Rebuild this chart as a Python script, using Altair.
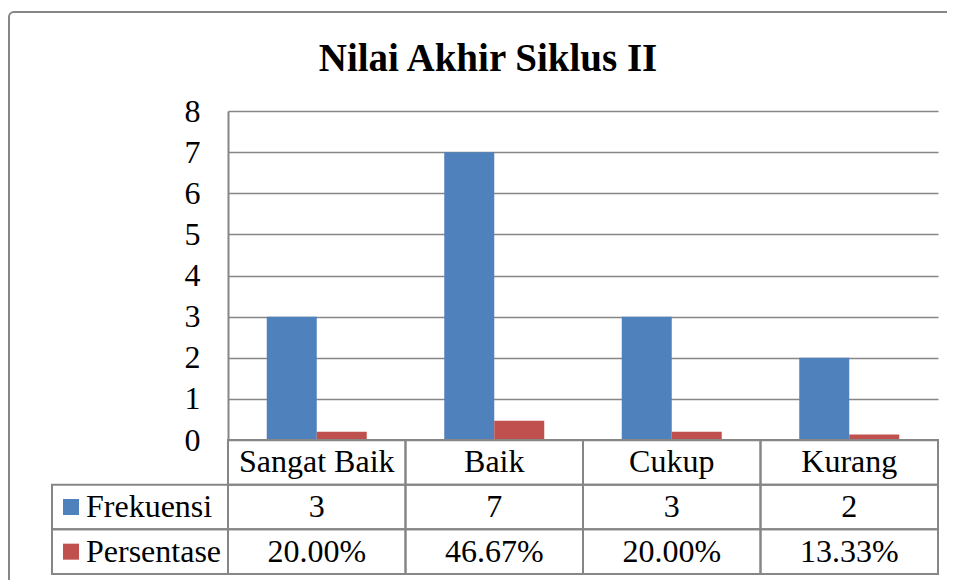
import altair as alt
import pandas as pd

# ---- data ----
kategori = ["Sangat Baik", "Baik", "Cukup", "Kurang"]
frekuensi = [3, 7, 3, 2]
persentase = [20.00, 46.67, 20.00, 13.33]
seri = ["Frekuensi", "Persentase"]
y_ticks = [0, 1, 2, 3, 4, 5, 6, 7, 8]
judul = ["Nilai Akhir Siklus II"]
baris = ["Kategori", "Frekuensi", "Persentase"]

# ---- styling ----
warna = ["#4F81BD", "#C0504D"]
abu = "#868686"
FONT = "'Liberation Serif', 'Times New Roman', 'DejaVu Serif', serif"
FS = 32
W, H = 710, 329
TABLE_H = 134

# ---- tables built from the arrays ----
bars_df = pd.DataFrame(
    [{"Kategori": k, "Seri": "Frekuensi", "Nilai": f} for k, f in zip(kategori, frekuensi)]
    + [{"Kategori": k, "Seri": "Persentase", "Nilai": p / 100} for k, p in zip(kategori, persentase)]
)

rows = []
for k, f, p in zip(kategori, frekuensi, persentase):
    rows.append({"Kategori": k, "Baris": "Kategori", "Teks": k})
    rows.append({"Kategori": k, "Baris": "Frekuensi", "Teks": str(f)})
    rows.append({"Kategori": k, "Baris": "Persentase", "Teks": f"{p:.2f}%"})
table_df = pd.DataFrame(rows)
legend_df = pd.DataFrame({"Baris": seri})
frame_df = pd.DataFrame({"a": [0]})
title_df = pd.DataFrame({"Judul": judul})

x_scale = alt.Scale(domain=kategori, paddingInner=0, paddingOuter=0)
x_enc = alt.X("Kategori:N", scale=x_scale, axis=None)
color_scale = alt.Scale(domain=seri, range=warna)
row_scale = alt.Scale(domain=baris, range=[H, H + TABLE_H], paddingInner=0, paddingOuter=0)
y_row = alt.Y("Baris:N", scale=row_scale, axis=None)

border = alt.Chart(frame_df).mark_rect(
    fill="white", fillOpacity=0, stroke=abu, strokeWidth=2, cornerRadius=5
).encode(
    x=alt.value(-219), x2=alt.value(780), y=alt.value(-99), y2=alt.value(560)
)

title = alt.Chart(title_df).mark_text(
    font=FONT, fontSize=39, fontWeight="bold", color="black",
    align="center", baseline="alphabetic",
).encode(x=alt.value(260), y=alt.value(-40), text="Judul:N")

bars = alt.Chart(bars_df).mark_bar().encode(
    x=x_enc,
    xOffset=alt.XOffset("Seri:N", scale=alt.Scale(domain=seri, paddingInner=0, paddingOuter=0.775)),
    y=alt.Y(
        "Nilai:Q",
        scale=alt.Scale(domain=[0, 8], nice=False),
        axis=alt.Axis(
            values=y_ticks, grid=True, gridColor=abu, gridWidth=1.5,
            domainColor=abu, domainWidth=2, ticks=False,
            labelFont=FONT, labelFontSize=FS, labelColor="black",
            labelPadding=28, title=None, format="d",
        ),
    ),
    color=alt.Color("Seri:N", scale=color_scale, legend=None),
)

cells = alt.Chart(table_df).mark_rect(
    fill="white", fillOpacity=0, stroke=abu, strokeWidth=2
).encode(x=x_enc, y=y_row)

texts = alt.Chart(table_df).mark_text(
    font=FONT, fontSize=FS, color="black", baseline="middle"
).encode(x=x_enc, y=y_row, text="Teks:N")

leg_boxes = alt.Chart(legend_df).mark_rect(
    fill="white", fillOpacity=0, stroke=abu, strokeWidth=2
).encode(x=alt.value(-176), x2=alt.value(0), y=y_row)

squares = alt.Chart(legend_df).mark_square(size=256, opacity=1).encode(
    x=alt.value(-157), y=y_row,
    color=alt.Color("Baris:N", scale=color_scale, legend=None),
)

labels = alt.Chart(legend_df).mark_text(
    font=FONT, fontSize=FS, color="black", align="left", baseline="middle"
).encode(x=alt.value(-142), y=y_row, text="Baris:N")

table = alt.layer(cells, texts, leg_boxes, squares, labels)

chart = alt.layer(border, title, bars, table).resolve_scale(y="independent").properties(
    width=W,
    height=H,
    padding={"left": 220, "top": 103, "right": 9, "bottom": 140},
    autosize=alt.AutoSizeParams(type="none"),
).configure_view(stroke=None)

chart.save("out.html", embed_options={"renderer": "svg", "actions": False})
